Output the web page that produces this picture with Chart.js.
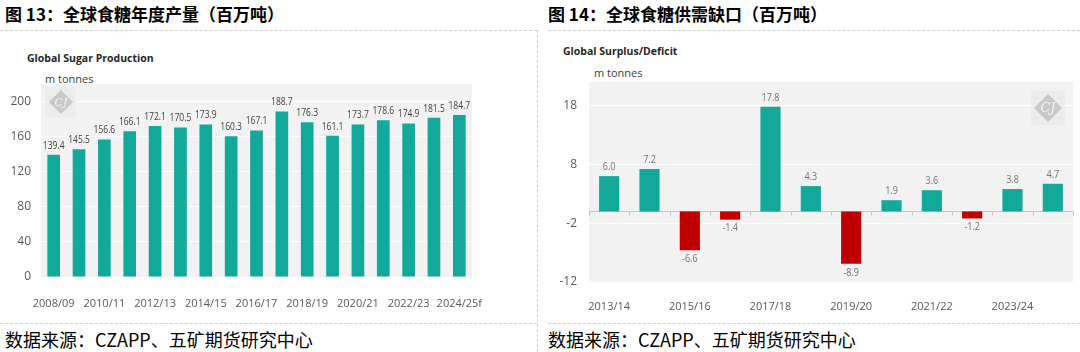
<!DOCTYPE html>
<html>
<head>
<meta charset="utf-8">
<script src="https://cdn.jsdelivr.net/npm/chart.js@4.4.1/dist/chart.umd.min.js"></script>
<style>
  body { margin: 0; width: 1080px; height: 352px; background: #fff; position: relative; overflow: hidden; }
  .t { position: absolute; top: 5px; font: bold 17px/1 "Noto Sans CJK SC", sans-serif; color: #000; white-space: nowrap; }
  .src { position: absolute; top: 330px; font: 18px/1 "Noto Sans CJK SC", sans-serif; color: #000; white-space: nowrap; }
  .hl { position: absolute; height: 0; border-top: 1px dashed #cfcfcf; }
  .vl { position: absolute; width: 0; border-left: 1px dashed #cfcfcf; }
  .ct { position: absolute; font: bold 10.5px/1 "Open Sans", sans-serif; color: #262626; white-space: nowrap; }
  .un { position: absolute; font: 11px/1 "Open Sans", sans-serif; color: #404040; white-space: nowrap; }
  canvas { position: absolute; }
</style>
</head>
<body>
<div class="t" style="left:5px">图 13：全球食糖年度产量（百万吨）</div>
<div class="t" style="left:548px">图 14：全球食糖供需缺口（百万吨）</div>
<div class="hl" style="left:0;top:30px;width:537px"></div>
<div class="hl" style="left:548px;top:30px;width:532px"></div>
<div class="vl" style="left:537px;top:30px;height:322px"></div>
<div class="hl" style="left:0;top:323px;width:537px"></div>
<div class="hl" style="left:548px;top:323px;width:532px"></div>
<div class="src" style="left:5px">数据来源：CZAPP、五矿期货研究中心</div>
<div class="src" style="left:548px">数据来源：CZAPP、五矿期货研究中心</div>

<div class="ct" style="left:27px;top:53px">Global Sugar Production</div>
<div class="un" style="left:45px;top:73px">m tonnes</div>
<div class="ct" style="left:563px;top:46px">Global Surplus/Deficit</div>
<div class="un" style="left:594px;top:67px">m tonnes</div>

<canvas id="c1" width="500" height="232" style="left:0;top:80px"></canvas>
<canvas id="c2" width="530" height="235" style="left:548px;top:78px"></canvas>

<script>
// production, million tonnes
const prodYears = ["2008/09", "2009/10", "2010/11", "2011/12", "2012/13", "2013/14", "2014/15", "2015/16",
  "2016/17", "2017/18", "2018/19", "2019/20", "2020/21", "2021/22", "2022/23", "2023/24", "2024/25f"]
const prodValues = [139.4, 145.5, 156.6, 166.1, 172.1, 170.5, 173.9, 160.3, 167.1, 188.7, 176.3, 161.1,
  173.7, 178.6, 174.9, 181.5, 184.7]
const prodTicks = [0, 40, 80, 120, 160, 200]

// surplus / deficit, million tonnes
const balYears = ["2013/14", "2014/15", "2015/16", "2016/17", "2017/18", "2018/19", "2019/20", "2020/21",
  "2021/22", "2022/23", "2023/24", "2024/25"]
const balValues = [6.0, 7.2, -6.6, -1.4, 17.8, 4.3, -8.9, 1.9, 3.6, -1.2, 3.8, 4.7]
const balTicks = [-12, -2, 8, 18]

const TEAL = "#12a89a"
const RED = "#c00000"
const FONT = "Open Sans, sans-serif"

const plotBg = {
  id: "plotBg",
  beforeDraw(chart) {
    const { ctx, chartArea: a } = chart
    ctx.save()
    ctx.fillStyle = "#f2f2f2"
    ctx.fillRect(a.left, a.top, a.right - a.left, a.bottom - a.top)
    ctx.restore()
  },
}

function stamp(ctx, x, y, r) {
  ctx.save()
  ctx.fillStyle = "#ececec"
  ctx.fillRect(x - r - 3, y - r - 3, 2 * r + 6, 2 * r + 6)
  ctx.beginPath()
  ctx.moveTo(x, y - r)
  ctx.lineTo(x + r, y)
  ctx.lineTo(x, y + r)
  ctx.lineTo(x - r, y)
  ctx.closePath()
  ctx.fillStyle = "#c8c8c8"
  ctx.fill()
  ctx.fillStyle = "#f4f4f4"
  ctx.font = "italic " + Math.round(r * 0.9) + "px DejaVu Serif"
  ctx.textAlign = "center"
  ctx.textBaseline = "middle"
  ctx.fillText("CJ", x, y + 1)
  ctx.restore()
}

// value labels, squeezed a bit like the narrow font in the source
const barLabels = {
  id: "barLabels",
  afterDatasetsDraw(chart, args, opts) {
    const { ctx } = chart
    const meta = chart.getDatasetMeta(0)
    const vals = chart.data.datasets[0].data
    ctx.save()
    ctx.font = "10px " + FONT
    ctx.fillStyle = opts.color
    ctx.textAlign = "center"
    meta.data.forEach((bar, i) => {
      const v = vals[i]
      const up = v >= 0
      ctx.save()
      ctx.translate(bar.x, up ? bar.y - 4 : bar.y + 4)
      ctx.scale(opts.squeeze, 1)
      ctx.textBaseline = up ? "bottom" : "top"
      ctx.fillText(v.toFixed(1), 0, 0)
      ctx.restore()
    })
    ctx.restore()
  },
}

function fixedTicks(list) {
  return (scale) => { scale.ticks = list.map((v) => ({ value: v })) }
}

function everyOther(labels) {
  return (val, i) => (i % 2 === 0 ? labels[i] : "")
}

function fitX(h) {
  return (s) => { s.height = h; s.paddingLeft = 0; s.paddingRight = 0 }
}

function fitY(w) {
  return (s) => { s.width = w; s.paddingTop = 0; s.paddingBottom = 0 }
}

// chart 1
new Chart(document.getElementById("c1"), {
  type: "bar",
  data: {
    labels: prodYears,
    datasets: [{ data: prodValues, backgroundColor: TEAL, barPercentage: 0.5, categoryPercentage: 1 }],
  },
  options: {
    responsive: false,
    animation: false,
    devicePixelRatio: 1,
    layout: { padding: { top: 4, right: 28, left: 0, bottom: 0 } },
    plugins: { legend: { display: false }, tooltip: { enabled: false }, barLabels: { color: "#404040", squeeze: 0.85 } },
    scales: {
      x: {
        grid: { display: false },
        border: { display: false },
        ticks: { color: "#595959", font: { size: 11, family: FONT }, padding: 12, autoSkip: false, maxRotation: 0,
          callback: everyOther(prodYears) },
        afterFit: fitX(35),
      },
      y: {
        min: 0,
        max: 220,
        afterBuildTicks: fixedTicks(prodTicks),
        grid: { color: "#ffffff", lineWidth: 1, drawTicks: false },
        border: { display: false },
        ticks: { color: "#595959", font: { size: 12, family: FONT }, padding: 10 },
        afterFit: fitY(41),
      },
    },
  },
  plugins: [plotBg, barLabels, {
    id: "mark1",
    beforeDatasetsDraw(chart) {
      const a = chart.chartArea
      stamp(chart.ctx, a.left + 20, a.top + 18, 12)
    },
  }],
})

// chart 2
new Chart(document.getElementById("c2"), {
  type: "bar",
  data: {
    labels: balYears,
    datasets: [{
      data: balValues,
      backgroundColor: balValues.map((v) => (v < 0 ? RED : TEAL)),
      barPercentage: 0.5,
      categoryPercentage: 1,
    }],
  },
  options: {
    responsive: false,
    animation: false,
    devicePixelRatio: 1,
    layout: { padding: { top: 4, right: 5, left: 0, bottom: 0 } },
    plugins: { legend: { display: false }, tooltip: { enabled: false }, barLabels: { color: "#737373", squeeze: 0.9 } },
    scales: {
      x: {
        grid: { display: false },
        border: { display: false },
        ticks: { color: "#595959", font: { size: 11, family: FONT }, padding: 10, autoSkip: false, maxRotation: 0,
          callback: everyOther(balYears) },
        afterFit: fitX(31),
      },
      y: {
        min: -12,
        max: 22,
        afterBuildTicks: fixedTicks(balTicks),
        grid: { color: "#ffffff", lineWidth: 1, drawTicks: false },
        border: { display: false },
        ticks: { color: "#595959", font: { size: 12, family: FONT }, padding: 12 },
        afterFit: fitY(41),
      },
    },
  },
  plugins: [plotBg, barLabels, {
    id: "zeroAxis",
    beforeDatasetsDraw(chart) {
      const { ctx, chartArea: a, scales } = chart
      const y0 = Math.round(scales.y.getPixelForValue(0)) + 0.5
      const step = (a.right - a.left) / balYears.length
      ctx.save()
      ctx.strokeStyle = "#c4c4c4"
      ctx.lineWidth = 1
      ctx.beginPath()
      ctx.moveTo(a.left, y0)
      ctx.lineTo(a.right, y0)
      for (let i = 0; i <= balYears.length; i++) {
        const x = Math.round(scales.x.getPixelForValue(i) - step / 2) + 0.5
        ctx.moveTo(x, y0)
        ctx.lineTo(x, y0 + 4)
      }
      ctx.stroke()
      ctx.restore()
      stamp(ctx, a.right - 25, a.top + 26, 14)
    },
  }],
})
</script>
</body>
</html>
